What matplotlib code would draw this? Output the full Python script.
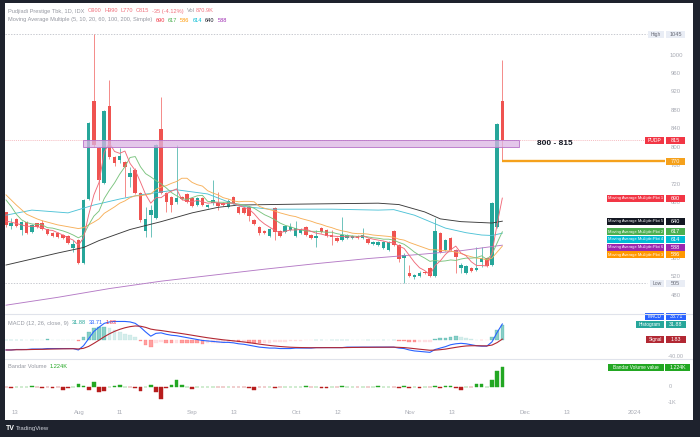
import numpy as np
import matplotlib.pyplot as plt
from matplotlib.patches import Rectangle
from matplotlib.lines import Line2D

plt.rcParams['font.family'] = ['Liberation Sans', 'DejaVu Sans']

# ---------------- data (daily bars, bar 0 = left edge of the view) ----------------
opens = [659, 629, 644, 621, 638, 616, 635, 635, 622, 614,
         614, 610, 607, 582, 599, 549, 688, 900, 798, 722,
         889, 779, 772, 768, 736, 751, 701, 618, 653, 647,
         839, 701, 692, 681, 692, 699, 690, 675, 690, 671,
         679, 679, 679, 671, 692, 671, 668, 671, 642, 627,
         618, 608, 668, 618, 616, 621, 608, 614, 627, 610,
         603, 625, 621, 610, 603, 599, 603, 603, 607, 603,
         601, 590, 588, 582, 578, 619, 588, 560, 528, 519,
         521, 530, 539, 521, 614, 577, 603, 577, 538, 528,
         539, 534, 552, 560, 545, 627, 900]
highs = [660, 646, 646, 640, 640, 633, 637, 642, 624, 616,
         616, 612, 609, 599, 601, 688, 855, 1045, 800, 880,
         946, 781, 798, 770, 757, 755, 703, 670, 675, 807,
         909, 703, 694, 805, 694, 701, 692, 692, 692, 677,
         729, 703, 681, 688, 694, 673, 670, 673, 644, 629,
         620, 625, 670, 620, 631, 635, 640, 625, 629, 612,
         621, 627, 623, 621, 605, 649, 612, 609, 609, 625,
         603, 596, 596, 597, 597, 621, 590, 571, 545, 525,
         532, 532, 541, 647, 616, 601, 605, 580, 549, 545,
         541, 584, 584, 562, 681, 852, 990]
lows = [628, 624, 627, 610, 612, 614, 625, 620, 610, 605,
        603, 601, 590, 573, 547, 547, 686, 800, 686, 720,
        775, 760, 766, 692, 714, 699, 638, 605, 605, 645,
        699, 660, 660, 677, 686, 679, 671, 673, 673, 669,
        675, 664, 673, 669, 677, 655, 655, 640, 632, 609,
        612, 605, 599, 605, 614, 618, 605, 612, 608, 601,
        584, 614, 606, 588, 595, 597, 601, 601, 601, 601,
        590, 588, 586, 580, 575, 586, 551, 505, 519, 515,
        519, 525, 519, 519, 571, 575, 575, 528, 528, 526,
        530, 532, 541, 541, 543, 625, 770]
closes = [631, 635, 629, 638, 614, 631, 627, 622, 612, 607,
          605, 603, 592, 590, 549, 686, 853, 805, 729, 878,
          779, 766, 781, 757, 744, 701, 642, 644, 664, 805,
          701, 681, 675, 690, 688, 682, 673, 690, 675, 675,
          686, 673, 675, 684, 679, 657, 657, 651, 634, 614,
          614, 623, 616, 608, 629, 627, 625, 623, 610, 603,
          607, 616, 608, 606, 597, 610, 610, 607, 603, 610,
          592, 594, 594, 595, 595, 588, 558, 567, 521, 523,
          528, 527, 521, 619, 573, 599, 577, 562, 545, 543,
          532, 539, 560, 543, 679, 850, 815]

ma5 = [640, 638, 635, 632, 629, 629, 628, 626, 621, 620,
       615, 610, 604, 599, 588, 604, 654, 697, 724, 790,
       809, 791, 787, 792, 765, 750, 725, 698, 679, 691,
       691, 699, 705, 710, 687, 683, 682, 685, 682, 679,
       680, 680, 677, 679, 679, 674, 670, 666, 656, 643,
       634, 627, 620, 615, 618, 621, 621, 622, 623, 618,
       614, 612, 609, 608, 607, 607, 606, 606, 605, 608,
       604, 601, 599, 597, 594, 593, 586, 581, 566, 551,
       539, 533, 524, 544, 554, 568, 578, 586, 571, 565,
       552, 544, 544, 543, 571, 634, 690]
ma10 = [686, 672, 655, 643, 637, 634, 633, 632, 626, 625,
        622, 619, 615, 610, 604, 610, 632, 651, 662, 689,
        707, 723, 742, 758, 778, 780, 758, 743, 736, 728,
        721, 712, 702, 695, 689, 687, 691, 695, 696, 683,
        682, 681, 681, 681, 679, 677, 675, 672, 668, 661,
        654, 649, 643, 636, 631, 628, 624, 621, 619, 618,
        618, 617, 616, 616, 613, 611, 609, 608, 607, 608,
        606, 604, 603, 601, 601, 599, 594, 590, 582, 573,
        566, 560, 553, 555, 553, 554, 556, 555, 558, 560,
        560, 561, 565, 557, 568, 593, 617]
ma20 = [697, 686, 675, 665, 655, 650, 645, 641, 638, 635,
        632, 630, 628, 626, 624, 626, 632, 638, 645, 657,
        664, 671, 679, 684, 691, 695, 695, 697, 699, 709,
        714, 717, 722, 726, 733, 733, 724, 719, 716, 706,
        701, 697, 691, 688, 684, 682, 683, 683, 682, 672,
        668, 665, 662, 658, 655, 652, 650, 646, 643, 640,
        636, 633, 629, 626, 622, 619, 617, 614, 613, 613,
        612, 610, 609, 608, 607, 605, 601, 599, 594, 590,
        586, 582, 578, 578, 577, 576, 575, 573, 570, 566,
        563, 560, 559, 556, 560, 573, 586]
ma60_x = [0, 5, 12, 17, 22, 26, 33, 39, 45, 51, 63, 72, 75, 79, 85, 89, 92, 94, 96]
ma60 = [653, 664, 658, 675, 688, 697, 708, 699, 673, 666, 666, 664, 665, 653, 625, 615, 610, 609, 614]
ma100_x = [0, 10, 15, 18, 24, 30, 36, 41, 45, 57, 72, 76, 81, 84, 88, 94, 96]
ma100 = [545, 571, 583, 598, 622, 639, 658, 670, 675, 677, 679, 676, 660, 645, 639, 636, 640]
ma200_x = [0, 10, 20, 30, 40, 50, 60, 70, 80, 88, 96]
ma200 = [458, 475, 494, 510, 523, 536, 548, 559, 568, 576, 588]

macd = [-21, -21, -20, -20, -20, -19, -19, -19, -18, -18,
        -18, -18, -18, -18, -21, -12, 3, 18, 27, 35,
        38, 39, 39, 39, 38, 35, 27, 17, 8, 14,
        15, 12, 10, 9, 7, 5, 3, 1, -1, -2,
        -3, -4, -5, -5, -6, -8, -9, -11, -13, -15,
        -16, -17, -17, -18, -18, -18, -17, -17, -17, -17,
        -16, -16, -16, -16, -16, -16, -15, -15, -15, -15,
        -15, -15, -15, -15, -15, -15, -17, -18, -21, -23,
        -24, -25, -26, -20, -17, -14, -10, -8, -7, -8,
        -10, -12, -13, -13, -4, 16, 33.71]
signal = [-21, -21, -20.5, -20.5, -20.3, -20, -19.8, -19.6, -19.3, -19,
          -18.8, -18.6, -18.5, -18.4, -18.9, -17.5, -13.4, -7.1, -0.3, 6.8,
          13, 18.2, 22.4, 25.7, 28.1, 29.5, 29, 26.6, 22.9, 21.1,
          19.9, 18.3, 16.6, 15.1, 13.5, 11.8, 10, 8.2, 6.4, 4.7,
          3.2, 1.8, 0.4, -0.7, -1.8, -3, -4.2, -5.6, -7.1, -8.7,
          -10.1, -11.5, -12.6, -13.7, -14.5, -15.2, -15.6, -15.9, -16.1, -16.3,
          -16.2, -16.2, -16.1, -16.1, -16.1, -16.1, -15.9, -15.7, -15.6, -15.4,
          -15.4, -15.3, -15.2, -15.2, -15.1, -15.1, -15.5, -16, -17, -18.2,
          -19.4, -20.5, -21.6, -21.3, -20.4, -19.2, -17.3, -15.5, -13.8, -12.6,
          -12.1, -12.1, -12.3, -12.4, -10.7, -5.4, 1.83]
hist = [0, 0, 0.5, 0.5, 0.3, 1, 0.8, 0.6, 1.3, 1,
        0.8, 0.6, 0.5, 0.4, -2.1, 5.5, 16.4, 25.1, 27.3, 28.2,
        25, 20.8, 16.6, 13.3, 9.9, 5.5, -2, -9.6, -14.9, -7.1,
        -4.9, -6.3, -6.6, -6.1, -6.5, -6.8, -7, -7.2, -7.4, -6.7,
        -6.2, -5.8, -5.4, -4.3, -4.2, -5, -4.8, -5.4, -5.9, -6.3,
        -5.9, -5.5, -4.4, -4.3, -3.5, -2.8, -1.4, -1.1, -0.9, -0.7,
        0.2, 0.2, 0.1, 0.1, 0.1, 0.1, 0.9, 0.7, 0.6, 0.4,
        0.4, 0.3, 0.2, 0.2, 0.1, 0.1, -1.5, -2, -4, -4.8,
        -4.6, -4.5, -4.4, 1.3, 3.4, 5.2, 7.3, 7.5, 6.8, 4.6,
        2.1, 0.1, -0.7, -0.6, 6.7, 21.4, 31.88]

bandar = [-0.03, -0.08, 0.02, 0.02, 0.03, 0.04, -0.02, -0.08, -0.02, -0.05,
          -0.03, -0.2, -0.05, 0.03, 0.2, 0.08, -0.2, 0.3, -0.33, -0.27,
          0.03, 0.08, 0.1, 0.03, -0.02, -0.05, -0.23, 0.03, 0.1, -0.33,
          -0.75, -0.04, 0.15, 0.42, 0.15, 0.03, -0.12, 0.03, 0.03, 0.02,
          0.03, -0.03, -0.02, 0.03, -0.03, -0.03, -0.02, -0.04, -0.17, -0.03,
          -0.02, 0.03, -0.04, -0.03, 0.02, 0.02, 0.03, 0.02, 0.04, -0.03,
          0.02, -0.08, -0.06, 0.03, -0.03, 0.04, 0.03, 0.02, -0.02, 0.03,
          -0.03, 0.02, 0.04, 0.02, 0.03, -0.03, -0.04, 0.05, -0.04, 0.02,
          -0.08, 0.02, -0.03, 0.05, -0.08, 0.06, 0.05, -0.04, -0.17, 0.03,
          -0.02, 0.2, 0.2, 0.02, 0.46, 1.02, 1.224]

zone_low, zone_high = 800, 815
target_price = 770
high_mark, low_mark = 1045, 505
price_ticks = [1000, 960, 920, 880, 840, 800, 760, 720, 680, 640, 600, 560, 520, 480]
date_ticks = [1.7, 14.1, 21.9, 36, 44.1, 56.1, 64.2, 78.1, 86.3, 100.4, 108.5, 121.5]
date_labels = ['13', 'Aug', '11', 'Sep', '13', 'Oct', '12', 'Nov', '13', 'Dec', '13', '2024']

# ---------------- layout ----------------
W, H = 700, 437
X0, DX = 6.0, 5.17          # pixel centre of bar 0, pixels per bar


def px(x):
    return (x - X0) / DX


fig = plt.figure(figsize=(7, 4.37), dpi=100)
fig.patch.set_facecolor('white')


def pane(top, bottom):
    return fig.add_axes([5 / W, 1 - bottom / H, 688 / W, (bottom - top) / H])


ax = pane(3, 314)
ax_m = pane(314, 359)
ax_v = pane(359, 405)
for a in (ax, ax_m, ax_v):
    a.set_xlim(px(5), px(693))
    a.set_xticks([])
    a.set_yticks([])
    for s in a.spines.values():
        s.set_visible(False)
    a.patch.set_alpha(0)
ax.set_ylim(438.9, 1112.7)
ax_m.set_ylim(-40.0, 54.7)
ax_v.set_ylim(-1.125, 1.75)

GREEN, RED = '#26a69a', '#ef5350'
SCALE = '#a8abb4'


def tag(a, val, x0, x1, fc, s, tc='white', fs=4.0, hpx=7.0, weight='normal'):
    y0, y1 = a.get_ylim()
    upp = (y1 - y0) / (a.get_position().height * H)
    hh = hpx * upp
    a.add_patch(Rectangle((px(x0), val - hh / 2), (x1 - x0) / DX, hh, fc=fc, ec='none',
                          clip_on=False, zorder=20))
    a.text(px((x0 + x1) / 2), val, s, ha='center', va='center', fontsize=fs, color=tc,
           zorder=21, fontweight=weight, clip_on=False)


# ---------------- price pane ----------------
idx = np.arange(len(closes))
o = np.array(opens, float)
c = np.array(closes, float)
col = np.where(c >= o, GREEN, RED)
ax.vlines(idx, lows, highs, colors=col, lw=0.55, alpha=0.85, zorder=3)
ax.bar(idx, np.maximum(np.abs(c - o), 1.5), bottom=np.minimum(o, c), width=0.68,
       color=col, zorder=4)

ma_style = dict(lw=0.65, zorder=5)
ax.plot(ma200_x, ma200, color='#b57bc6', **ma_style)
ax.plot(ma100_x, ma100, color='#3b3b3b', **ma_style)
ax.plot(ma60_x, ma60, color='#4fc3d7', **ma_style)
ax.plot(idx, ma20, color='#f7b05a', **ma_style)
ax.plot(idx, ma10, color='#7bc47f', **ma_style)
ax.plot(idx, ma5, color='#f06b7a', **ma_style)

# supply zone box
ax.add_patch(Rectangle((14.9, zone_low), 99.2 - 14.9, zone_high - zone_low,
                       fc=(0.86, 0.71, 0.89, 0.75), ec='#b772c8', lw=0.6, zorder=6))
ax.text(px(537), (zone_low + zone_high) / 2, f'{zone_low} - {zone_high}', fontsize=6,
        fontweight='bold', color='#131722', va='center', ha='left', zorder=7)

# horizontal markers
ax.hlines(high_mark, px(5), px(647), colors='#b2b5be', linestyles=(0, (2, 2)), lw=0.5, zorder=2)
ax.hlines(low_mark, px(5), px(647), colors='#b2b5be', linestyles=(0, (2, 2)), lw=0.5, zorder=2)
ax.hlines(closes[-1], px(5), px(645), colors='#f2a4ab', linestyles=(0, (1.5, 1.5)), lw=0.5, zorder=2)
ax.hlines(target_price, idx[-1], px(665), colors='#f5a11c', lw=1.7, zorder=8)

for v in price_ticks:
    ax.text(px(676), v, str(v), ha='center', va='center', fontsize=4.3, color=SCALE, zorder=9)

tag(ax, high_mark, 648, 664, '#e9edf5', 'High', tc='#6a6d78', fs=3.6)
tag(ax, high_mark, 666, 685, '#e9edf5', str(high_mark), tc='#6a6d78', fs=4.0)
tag(ax, low_mark, 650, 664, '#e9edf5', 'Low', tc='#6a6d78', fs=3.6)
tag(ax, low_mark, 666, 685, '#e9edf5', str(low_mark), tc='#6a6d78', fs=4.0)
tag(ax, closes[-1], 645, 664, '#f23645', 'PUDP', fs=3.6)
tag(ax, closes[-1], 666, 685, '#f23645', str(closes[-1]), fs=4.0)
tag(ax, target_price, 666, 685, '#f5a11c', str(target_price), tc='#fff3e0', fs=4.0)

ma_tags = [('Moving Average Multiple:Plot 1', ma5[-1], '#f23645', 'white'),
           ('Moving Average Multiple:Plot 5', ma100[-1], '#131722', 'white'),
           ('Moving Average Multiple:Plot 2', ma10[-1], '#4caf50', 'white'),
           ('Moving Average Multiple:Plot 4', ma60[-1], '#00bcd4', 'white'),
           ('Moving Average Multiple:Plot 6', ma200[-1], '#9c27b0', 'white'),
           ('Moving Average Multiple:Plot 3', ma20[-1], '#ff9800', 'white')]
ma_tags.sort(key=lambda t: -t[1])
prev = None
for name, val, fc, tc in ma_tags:
    pos = val if prev is None else min(val, prev - 16.5)
    prev = pos
    tag(ax, pos, 607, 664, fc, name, tc=tc, fs=2.9)
    tag(ax, pos, 666, 685, fc, str(val), tc=tc, fs=4.0)

# ---------------- MACD pane ----------------
hc = []
for k, h in enumerate(hist):
    p = hist[k - 1] if k > 0 else h
    if h >= 0:
        hc.append('#26a69a' if h >= p else '#b2dfdb')
    else:
        hc.append('#ff5252' if h < p else '#ffcdd2')
hc = np.array(hc)
ax_m.bar(idx, hist, width=0.7, color=hc, edgecolor=hc, lw=0.3, alpha=0.55, zorder=2)
ax_m.plot(idx, macd, color='#2962ff', lw=0.8, zorder=3)
ax_m.plot(idx, signal, color='#b22833', lw=0.8, zorder=3)

ax_m.text(px(676), -40, '-40.00', ha='center', va='bottom', fontsize=4.0, color=SCALE)
m_tags = [('Signal', signal[-1], '#b22833', 646), ('Histogram', hist[-1], '#26a69a', 636),
          ('MACD', macd[-1], '#2962ff', 645)]
prev = None
for name, val, fc, x0 in m_tags:
    pos = val if prev is None else max(val, prev + 16.8)
    prev = pos
    tag(ax_m, pos, x0, 664, fc, name, fs=3.4)
    tag(ax_m, pos, 666, 686, fc, f'{val:.2f}', fs=3.8)

# ---------------- Bandar volume pane ----------------
vc = np.where(np.array(bandar) >= 0, '#22a722', '#b71c1c')
ax_v.bar(idx, bandar, width=0.7, color=vc, edgecolor=vc, lw=0.3, zorder=2)
ax_v.text(px(670), 0, '0', ha='center', va='center', fontsize=4.0, color=SCALE)
ax_v.text(px(672), -1, '-1K', ha='center', va='center', fontsize=4.0, color=SCALE)
tag(ax_v, bandar[-1], 608, 664, '#22a722', 'Bandar Volume value', fs=3.4)
tag(ax_v, bandar[-1], 665, 690, '#22a722', f'{bandar[-1]:.3f}K', fs=3.8)

ax_v.set_xticks(date_ticks)
ax_v.set_xticklabels(date_labels)
ax_v.tick_params(axis='x', length=0, pad=3.5, labelsize=4.3, labelcolor=SCALE)

# ---------------- legends (segments laid out one after another) ----------------
renderer = fig.canvas.get_renderer()


def legend_row(x, y, parts, fs=4.1):
    # y is the text centre in pixels; draw on a shared baseline
    for s, color, gap in parts:
        t = fig.text(x / W, 1 - (y + 1.5) / H, s, fontsize=fs, color=color,
                     va='baseline', ha='left')
        x = t.get_window_extent(renderer).x1 * W / fig.bbox.width + gap


GREY = '#9598a1'
PINK = '#f0707c'
legend_row(8, 11, [('Pudjiadi Prestige Tbk, 1D, IDX', GREY, 3), ('O900', PINK, 3),
                   ('H990', PINK, 3), ('L770', PINK, 3), ('C815', PINK, 3),
                   ('-35 (-4.12%)', PINK, 3), ('Vol', GREY, 0.8), ('870.9K', PINK, 0)])
legend_row(8, 20, [('Moving Average Multiple (5, 10, 20, 60, 100, 200, Simple)', GREY, 3),
                   (str(ma5[-1]), '#f23645', 3), (str(ma10[-1]), '#4caf50', 3),
                   (str(ma20[-1]), '#ff9800', 3), (str(ma60[-1]), '#00bcd4', 3),
                   (str(ma100[-1]), '#131722', 3), (str(ma200[-1]), '#9c27b0', 3)])
legend_row(8, 323, [('MACD (12, 26, close, 9)', GREY, 3), (f'{hist[-1]:.2f}', '#26a69a', 3),
                    (f'{macd[-1]:.2f}', '#2962ff', 3), (f'{signal[-1]:.2f}', '#f23645', 3)])
legend_row(8, 367, [('Bandar Volume', GREY, 3), (f'{bandar[-1]:.3f}K', '#22a722', 3)])

# pane separators
for yy in (314, 359):
    fig.add_artist(Line2D([5 / W, 693 / W], [1 - yy / H, 1 - yy / H], color='#e0e3eb', lw=0.8))

# dark frame
DARK = '#1e222d'
for (x0, y0, w, h) in [(0, 0, 5, H), (693, 0, 7, H), (0, 0, W, 3), (0, 420, W, 17)]:
    fig.add_artist(Rectangle((x0 / W, 1 - (y0 + h) / H), w / W, h / H,
                             transform=fig.transFigure, fc=DARK, ec='none', zorder=50))
fig.text(6 / W, 1 - 428.5 / H, 'TV', fontsize=5, fontweight='bold', color='white',
         va='center', ha='left', zorder=51)
fig.text(16 / W, 1 - 428.5 / H, 'TradingView', fontsize=4.3, color='#d1d4dc',
         va='center', ha='left', zorder=51)

fig.savefig('out.png', dpi=100, facecolor='white')
